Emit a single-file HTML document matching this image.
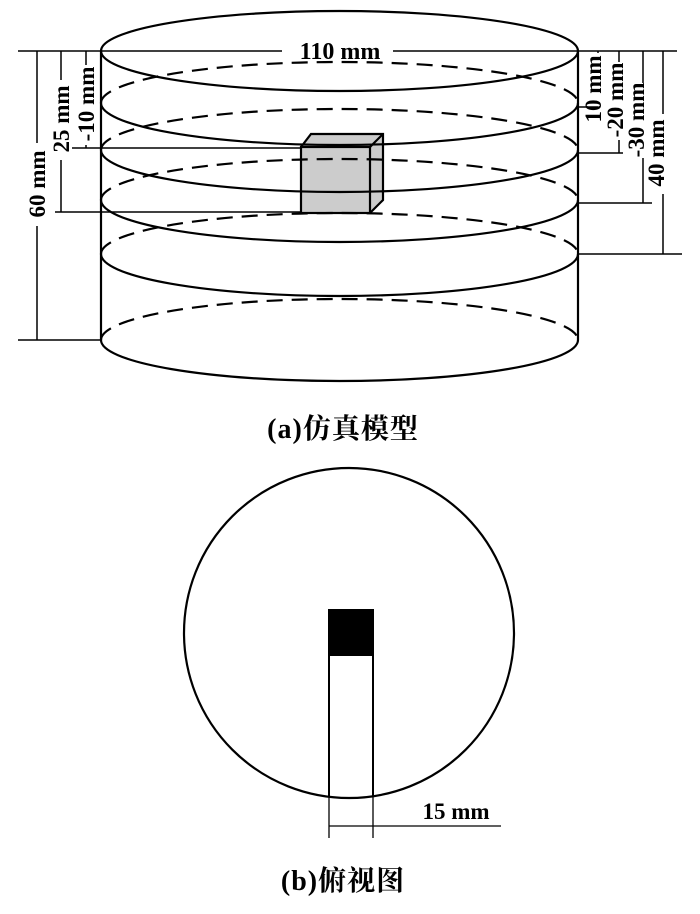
<!DOCTYPE html>
<html><head><meta charset="utf-8"><style>
html,body{margin:0;padding:0;background:#fff;}
svg{display:block;}
text{font-family:"Liberation Serif","Noto Serif CJK SC",serif;font-weight:bold;fill:#000;}
</style></head><body>
<svg width="700" height="914" viewBox="0 0 700 914" xmlns="http://www.w3.org/2000/svg">
<g stroke="#000" fill="none" stroke-width="2.2">
<polygon points="301,147 311,134 383,134 383,200 370,213 301,213" fill="#ccc" stroke="none"/>
<rect x="301" y="147" width="69" height="66" fill="#ccc"/>
<polyline points="301,147 311,134 383,134 383,200 370,213"/>
<line x1="370" y1="147" x2="383" y2="134"/>
<line x1="101" y1="51" x2="101" y2="340"/>
<line x1="578" y1="51" x2="578" y2="340"/>
<ellipse cx="339.5" cy="51" rx="238.5" ry="40"/>
<g>
<path d="M101,103 A238.5,42 0 0 0 578,103"/>
<path d="M101,103 A238.5,41 0 0 1 578,103" stroke-dasharray="16,9"/>
<path d="M101,150 A238.5,42 0 0 0 578,150"/>
<path d="M101,150 A238.5,41 0 0 1 578,150" stroke-dasharray="16,9"/>
<path d="M101,200 A238.5,42 0 0 0 578,200"/>
<path d="M101,200 A238.5,41 0 0 1 578,200" stroke-dasharray="16,9"/>
<path d="M101,254 A238.5,42 0 0 0 578,254"/>
<path d="M101,254 A238.5,41 0 0 1 578,254" stroke-dasharray="16,9"/>
<path d="M101,340 A238.5,41 0 0 0 578,340"/>
<path d="M101,340 A238.5,41 0 0 1 578,340" stroke-dasharray="16,9"/>
</g>
</g>
<g stroke="#000" stroke-width="1.5" fill="none">
<line x1="18" y1="51" x2="282" y2="51"/>
<line x1="393" y1="51" x2="677" y2="51"/>
<line x1="18" y1="340" x2="101" y2="340"/>
<line x1="37" y1="51" x2="37" y2="143"/>
<line x1="37" y1="226" x2="37" y2="340"/>
<line x1="61" y1="51" x2="61" y2="80"/>
<line x1="61" y1="160" x2="61" y2="212"/>
<line x1="55" y1="212" x2="301" y2="212"/>
<line x1="86" y1="51" x2="86" y2="65"/>
<line x1="86" y1="145" x2="86" y2="148"/>
<line x1="72" y1="148" x2="301" y2="148"/>
<line x1="598" y1="51" x2="598" y2="53"/>
<line x1="578" y1="107" x2="598" y2="107"/>
<line x1="619" y1="51" x2="619" y2="62"/>
<line x1="619" y1="140" x2="619" y2="153"/>
<line x1="578" y1="153" x2="623" y2="153"/>
<line x1="643" y1="51" x2="643" y2="83"/>
<line x1="643" y1="158" x2="643" y2="203"/>
<line x1="578" y1="203" x2="652" y2="203"/>
<line x1="663" y1="51" x2="663" y2="114"/>
<line x1="663" y1="194" x2="663" y2="254"/>
<line x1="578" y1="254" x2="682" y2="254"/>
</g>
<text x="340" y="59" font-size="24" text-anchor="middle">110 mm</text>
<g font-size="23" text-anchor="middle">
<text transform="translate(45,184) rotate(-90)">60 mm</text>
<text transform="translate(69,119) rotate(-90)">25 mm</text>
<text transform="translate(94,104) rotate(-90)">-10 mm</text>
<text transform="translate(601,89) rotate(-90)">10 mm</text>
<text transform="translate(623,100) rotate(-90)">-20 mm</text>
<text transform="translate(644,120) rotate(-90)">-30 mm</text>
<text transform="translate(664,153) rotate(-90)">40 mm</text>
</g>
<text x="343" y="438" font-size="28" text-anchor="middle" letter-spacing="1">(a)仿真模型</text>
<circle cx="349" cy="633" r="165" fill="none" stroke="#000" stroke-width="2.2"/>
<rect x="329" y="609" width="44" height="47" fill="#000"/>
<g stroke="#000" stroke-width="2">
<line x1="329" y1="609" x2="329" y2="797"/>
<line x1="373" y1="609" x2="373" y2="797"/>
</g>
<g stroke="#000" stroke-width="1.3">
<line x1="329" y1="797" x2="329" y2="838"/>
<line x1="373" y1="797" x2="373" y2="838"/>
<line x1="329" y1="826" x2="501" y2="826"/>
</g>
<text x="456" y="819" font-size="23" text-anchor="middle">15 mm</text>
<text x="343" y="890" font-size="28" text-anchor="middle" letter-spacing="1">(b)俯视图</text>
</svg>
</body></html>
